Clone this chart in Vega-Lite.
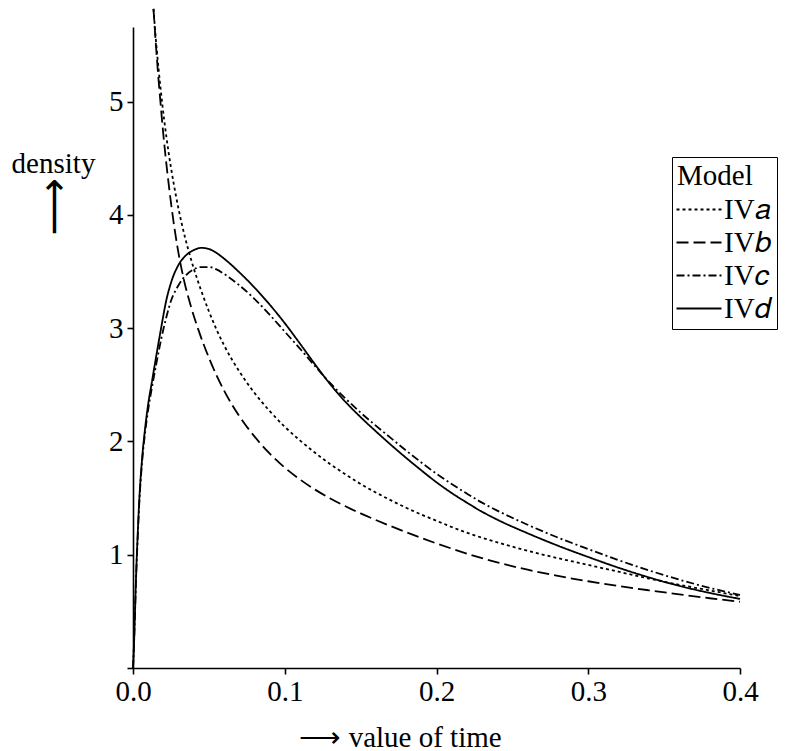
{
  "$schema": "https://vega.github.io/schema/vega-lite/v6.json",
  "autosize": {"type": "none"},
  "width": 607,
  "height": 641,
  "padding": {"left": 133, "top": 27, "right": 57, "bottom": 83},
  "background": "white",
  "config": {
    "font": "Liberation Serif",
    "view": {"stroke": null},
    "axis": {
      "domainColor": "black", "domainWidth": 1.6, "tickColor": "black", "tickWidth": 1.6, "tickSize": 6,
      "labelFont": "Liberation Serif", "labelFontSize": 29, "labelColor": "black", "grid": false, "labelFlush": false,
      "titleFont": "Liberation Serif", "titleFontSize": 29, "titleFontWeight": "normal", "titleColor": "black"
    },
    "legend": {
      "orient": "none", "legendX": 539, "legendY": 130,
      "strokeColor": "black", "fillColor": "white", "padding": 5,
      "titleFont": "Liberation Serif", "titleFontSize": 29, "titleFontWeight": "normal", "titleColor": "black",
      "labelFont": "Liberation Serif", "labelFontSize": 29, "labelColor": "black",
      "symbolType": "M-2,0H4", "symbolSize": 225, "symbolStrokeWidth": 1.8, "symbolStrokeColor": "black",
      "rowPadding": 3, "titlePadding": 4, "labelOffset": 18
    }
  },
  "data": {"values": [
    {"model": "IV𝑎", "t": 0.0135, "d": 5.82},
    {"model": "IV𝑎", "t": 0.015, "d": 5.56},
    {"model": "IV𝑎", "t": 0.017, "d": 5.27},
    {"model": "IV𝑎", "t": 0.0193, "d": 4.98},
    {"model": "IV𝑎", "t": 0.022, "d": 4.69},
    {"model": "IV𝑎", "t": 0.025, "d": 4.42},
    {"model": "IV𝑎", "t": 0.0283, "d": 4.17},
    {"model": "IV𝑎", "t": 0.032, "d": 3.93},
    {"model": "IV𝑎", "t": 0.0365, "d": 3.69},
    {"model": "IV𝑎", "t": 0.04, "d": 3.53},
    {"model": "IV𝑎", "t": 0.045, "d": 3.33},
    {"model": "IV𝑎", "t": 0.05, "d": 3.15},
    {"model": "IV𝑎", "t": 0.055, "d": 2.99},
    {"model": "IV𝑎", "t": 0.06, "d": 2.85},
    {"model": "IV𝑎", "t": 0.07, "d": 2.62},
    {"model": "IV𝑎", "t": 0.08, "d": 2.43},
    {"model": "IV𝑎", "t": 0.09, "d": 2.27},
    {"model": "IV𝑎", "t": 0.10, "d": 2.13},
    {"model": "IV𝑎", "t": 0.11, "d": 2.01},
    {"model": "IV𝑎", "t": 0.12, "d": 1.90},
    {"model": "IV𝑎", "t": 0.13, "d": 1.80},
    {"model": "IV𝑎", "t": 0.14, "d": 1.71},
    {"model": "IV𝑎", "t": 0.15, "d": 1.625},
    {"model": "IV𝑎", "t": 0.16, "d": 1.55},
    {"model": "IV𝑎", "t": 0.17, "d": 1.48},
    {"model": "IV𝑎", "t": 0.18, "d": 1.415},
    {"model": "IV𝑎", "t": 0.19, "d": 1.355},
    {"model": "IV𝑎", "t": 0.20, "d": 1.30},
    {"model": "IV𝑎", "t": 0.21, "d": 1.245},
    {"model": "IV𝑎", "t": 0.22, "d": 1.195},
    {"model": "IV𝑎", "t": 0.23, "d": 1.15},
    {"model": "IV𝑎", "t": 0.24, "d": 1.11},
    {"model": "IV𝑎", "t": 0.26, "d": 1.035},
    {"model": "IV𝑎", "t": 0.28, "d": 0.97},
    {"model": "IV𝑎", "t": 0.30, "d": 0.91},
    {"model": "IV𝑎", "t": 0.32, "d": 0.85},
    {"model": "IV𝑎", "t": 0.34, "d": 0.79},
    {"model": "IV𝑎", "t": 0.36, "d": 0.735},
    {"model": "IV𝑎", "t": 0.38, "d": 0.685},
    {"model": "IV𝑎", "t": 0.40, "d": 0.635},

    {"model": "IV𝑏", "t": 0.0135, "d": 5.82},
    {"model": "IV𝑏", "t": 0.015, "d": 5.52},
    {"model": "IV𝑏", "t": 0.0165, "d": 5.25},
    {"model": "IV𝑏", "t": 0.0182, "d": 4.98},
    {"model": "IV𝑏", "t": 0.020, "d": 4.71},
    {"model": "IV𝑏", "t": 0.0225, "d": 4.39},
    {"model": "IV𝑏", "t": 0.0255, "d": 4.06},
    {"model": "IV𝑏", "t": 0.029, "d": 3.74},
    {"model": "IV𝑏", "t": 0.033, "d": 3.46},
    {"model": "IV𝑏", "t": 0.038, "d": 3.20},
    {"model": "IV𝑏", "t": 0.043, "d": 2.99},
    {"model": "IV𝑏", "t": 0.05, "d": 2.74},
    {"model": "IV𝑏", "t": 0.055, "d": 2.585},
    {"model": "IV𝑏", "t": 0.06, "d": 2.45},
    {"model": "IV𝑏", "t": 0.07, "d": 2.225},
    {"model": "IV𝑏", "t": 0.08, "d": 2.045},
    {"model": "IV𝑏", "t": 0.09, "d": 1.895},
    {"model": "IV𝑏", "t": 0.10, "d": 1.77},
    {"model": "IV𝑏", "t": 0.11, "d": 1.665},
    {"model": "IV𝑏", "t": 0.12, "d": 1.575},
    {"model": "IV𝑏", "t": 0.13, "d": 1.497},
    {"model": "IV𝑏", "t": 0.14, "d": 1.428},
    {"model": "IV𝑏", "t": 0.15, "d": 1.365},
    {"model": "IV𝑏", "t": 0.16, "d": 1.307},
    {"model": "IV𝑏", "t": 0.17, "d": 1.252},
    {"model": "IV𝑏", "t": 0.18, "d": 1.199},
    {"model": "IV𝑏", "t": 0.19, "d": 1.148},
    {"model": "IV𝑏", "t": 0.20, "d": 1.10},
    {"model": "IV𝑏", "t": 0.21, "d": 1.054},
    {"model": "IV𝑏", "t": 0.22, "d": 1.01},
    {"model": "IV𝑏", "t": 0.23, "d": 0.97},
    {"model": "IV𝑏", "t": 0.24, "d": 0.933},
    {"model": "IV𝑏", "t": 0.26, "d": 0.868},
    {"model": "IV𝑏", "t": 0.28, "d": 0.813},
    {"model": "IV𝑏", "t": 0.30, "d": 0.766},
    {"model": "IV𝑏", "t": 0.32, "d": 0.724},
    {"model": "IV𝑏", "t": 0.34, "d": 0.686},
    {"model": "IV𝑏", "t": 0.36, "d": 0.65},
    {"model": "IV𝑏", "t": 0.38, "d": 0.616},
    {"model": "IV𝑏", "t": 0.40, "d": 0.585},

    {"model": "IV𝑐", "t": 0.0, "d": 0.0},
    {"model": "IV𝑐", "t": 0.0005, "d": 0.15},
    {"model": "IV𝑐", "t": 0.001, "d": 0.35},
    {"model": "IV𝑐", "t": 0.002, "d": 0.78},
    {"model": "IV𝑐", "t": 0.003, "d": 1.12},
    {"model": "IV𝑐", "t": 0.004, "d": 1.42},
    {"model": "IV𝑐", "t": 0.006, "d": 1.82},
    {"model": "IV𝑐", "t": 0.008, "d": 2.08},
    {"model": "IV𝑐", "t": 0.010, "d": 2.28},
    {"model": "IV𝑐", "t": 0.0125, "d": 2.48},
    {"model": "IV𝑐", "t": 0.015, "d": 2.66},
    {"model": "IV𝑐", "t": 0.0185, "d": 2.90},
    {"model": "IV𝑐", "t": 0.022, "d": 3.10},
    {"model": "IV𝑐", "t": 0.025, "d": 3.24},
    {"model": "IV𝑐", "t": 0.03, "d": 3.38},
    {"model": "IV𝑐", "t": 0.035, "d": 3.47},
    {"model": "IV𝑐", "t": 0.04, "d": 3.52},
    {"model": "IV𝑐", "t": 0.045, "d": 3.54},
    {"model": "IV𝑐", "t": 0.05, "d": 3.54},
    {"model": "IV𝑐", "t": 0.055, "d": 3.52},
    {"model": "IV𝑐", "t": 0.06, "d": 3.48},
    {"model": "IV𝑐", "t": 0.07, "d": 3.38},
    {"model": "IV𝑐", "t": 0.08, "d": 3.26},
    {"model": "IV𝑐", "t": 0.09, "d": 3.12},
    {"model": "IV𝑐", "t": 0.10, "d": 2.97},
    {"model": "IV𝑐", "t": 0.11, "d": 2.82},
    {"model": "IV𝑐", "t": 0.12, "d": 2.665},
    {"model": "IV𝑐", "t": 0.13, "d": 2.515},
    {"model": "IV𝑐", "t": 0.14, "d": 2.38},
    {"model": "IV𝑐", "t": 0.15, "d": 2.255},
    {"model": "IV𝑐", "t": 0.16, "d": 2.14},
    {"model": "IV𝑐", "t": 0.17, "d": 2.03},
    {"model": "IV𝑐", "t": 0.18, "d": 1.92},
    {"model": "IV𝑐", "t": 0.19, "d": 1.815},
    {"model": "IV𝑐", "t": 0.20, "d": 1.715},
    {"model": "IV𝑐", "t": 0.21, "d": 1.625},
    {"model": "IV𝑐", "t": 0.22, "d": 1.54},
    {"model": "IV𝑐", "t": 0.23, "d": 1.46},
    {"model": "IV𝑐", "t": 0.24, "d": 1.39},
    {"model": "IV𝑐", "t": 0.26, "d": 1.265},
    {"model": "IV𝑐", "t": 0.28, "d": 1.152},
    {"model": "IV𝑐", "t": 0.30, "d": 1.05},
    {"model": "IV𝑐", "t": 0.32, "d": 0.952},
    {"model": "IV𝑐", "t": 0.34, "d": 0.862},
    {"model": "IV𝑐", "t": 0.36, "d": 0.78},
    {"model": "IV𝑐", "t": 0.38, "d": 0.708},
    {"model": "IV𝑐", "t": 0.40, "d": 0.645},

    {"model": "IV𝑑", "t": 0.0, "d": 0.0},
    {"model": "IV𝑑", "t": 0.0005, "d": 0.15},
    {"model": "IV𝑑", "t": 0.001, "d": 0.35},
    {"model": "IV𝑑", "t": 0.002, "d": 0.8},
    {"model": "IV𝑑", "t": 0.003, "d": 1.15},
    {"model": "IV𝑑", "t": 0.004, "d": 1.45},
    {"model": "IV𝑑", "t": 0.006, "d": 1.85},
    {"model": "IV𝑑", "t": 0.008, "d": 2.12},
    {"model": "IV𝑑", "t": 0.010, "d": 2.33},
    {"model": "IV𝑑", "t": 0.0125, "d": 2.53},
    {"model": "IV𝑑", "t": 0.015, "d": 2.73},
    {"model": "IV𝑑", "t": 0.0185, "d": 3.0},
    {"model": "IV𝑑", "t": 0.022, "d": 3.25},
    {"model": "IV𝑑", "t": 0.025, "d": 3.40},
    {"model": "IV𝑑", "t": 0.03, "d": 3.56},
    {"model": "IV𝑑", "t": 0.035, "d": 3.645},
    {"model": "IV𝑑", "t": 0.04, "d": 3.69},
    {"model": "IV𝑑", "t": 0.045, "d": 3.71},
    {"model": "IV𝑑", "t": 0.05, "d": 3.70},
    {"model": "IV𝑑", "t": 0.055, "d": 3.665},
    {"model": "IV𝑑", "t": 0.06, "d": 3.615},
    {"model": "IV𝑑", "t": 0.07, "d": 3.495},
    {"model": "IV𝑑", "t": 0.08, "d": 3.36},
    {"model": "IV𝑑", "t": 0.09, "d": 3.21},
    {"model": "IV𝑑", "t": 0.10, "d": 3.045},
    {"model": "IV𝑑", "t": 0.11, "d": 2.865},
    {"model": "IV𝑑", "t": 0.12, "d": 2.68},
    {"model": "IV𝑑", "t": 0.13, "d": 2.505},
    {"model": "IV𝑑", "t": 0.14, "d": 2.35},
    {"model": "IV𝑑", "t": 0.15, "d": 2.215},
    {"model": "IV𝑑", "t": 0.16, "d": 2.09},
    {"model": "IV𝑑", "t": 0.17, "d": 1.97},
    {"model": "IV𝑑", "t": 0.18, "d": 1.855},
    {"model": "IV𝑑", "t": 0.19, "d": 1.745},
    {"model": "IV𝑑", "t": 0.20, "d": 1.64},
    {"model": "IV𝑑", "t": 0.21, "d": 1.545},
    {"model": "IV𝑑", "t": 0.22, "d": 1.46},
    {"model": "IV𝑑", "t": 0.23, "d": 1.38},
    {"model": "IV𝑑", "t": 0.24, "d": 1.31},
    {"model": "IV𝑑", "t": 0.26, "d": 1.19},
    {"model": "IV𝑑", "t": 0.28, "d": 1.08},
    {"model": "IV𝑑", "t": 0.30, "d": 0.98},
    {"model": "IV𝑑", "t": 0.32, "d": 0.885},
    {"model": "IV𝑑", "t": 0.34, "d": 0.80},
    {"model": "IV𝑑", "t": 0.36, "d": 0.725},
    {"model": "IV𝑑", "t": 0.38, "d": 0.663},
    {"model": "IV𝑑", "t": 0.40, "d": 0.61}
  ]},
  "layer": [
    {
      "mark": {"type": "line", "color": "black", "strokeWidth": 1.8, "clip": false, "interpolate": "monotone"},
      "encoding": {
        "x": {"field": "t", "type": "quantitative",
              "scale": {"domain": [0, 0.4], "nice": false, "zero": false},
              "axis": {"values": [0, 0.1, 0.2, 0.3, 0.4], "format": ".1f", "labelPadding": 3,
                       "title": "⟶ value of time", "titleX": 267, "titleY": 69, "titleAlign": "center", "titleBaseline": "middle"}},
        "y": {"field": "d", "type": "quantitative",
              "scale": {"domain": [0, 5.66], "nice": false, "zero": true},
              "axis": {"values": [0, 1, 2, 3, 4, 5], "labelExpr": "datum.value == 0 ? '' : datum.label", "labelPadding": 4,
                       "title": "density", "titleAngle": 0, "titleX": -80, "titleY": 136, "titleAlign": "center", "titleBaseline": "middle"}},
        "strokeDash": {"field": "model", "type": "nominal", "title": "Model",
                       "scale": {"domain": ["IV𝑎", "IV𝑏", "IV𝑐", "IV𝑑"], "range": [[3, 3], [12, 5], [8, 3, 2, 3], [1, 0]]}},
        "detail": {"field": "model"}
      }
    },
    {
      "mark": {"type": "line", "opacity": 0, "clip": false},
      "encoding": {
        "x": {"field": "t", "type": "quantitative"},
        "y": {"field": "d", "type": "quantitative",
              "axis": {"orient": "left", "domain": false, "ticks": false, "labels": false,
                       "title": "⟶", "titleFont": "DejaVu Sans", "titleAngle": 270, "titleFontSize": 40,
                       "titleX": -79, "titleY": 179, "titleAlign": "center", "titleBaseline": "middle"}},
        "detail": {"field": "model"}
      }
    }
  ],
  "resolve": {"axis": {"y": "independent"}}
}
